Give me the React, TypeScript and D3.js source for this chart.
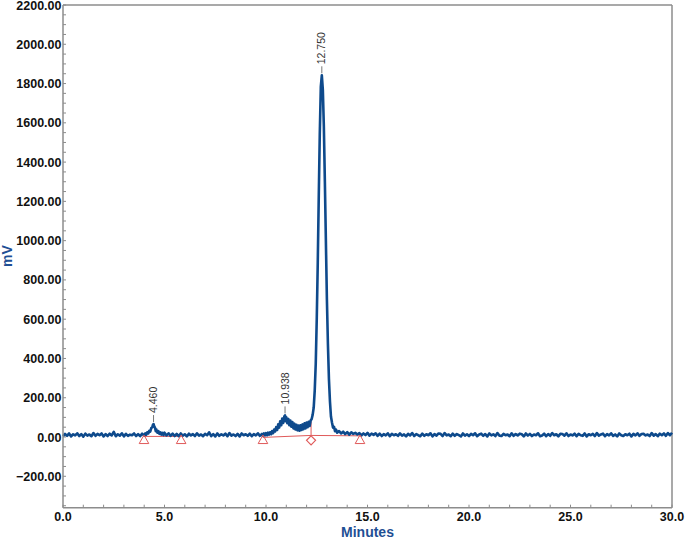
import React from "react";
import * as d3 from "d3";

const W = 685;
const H = 540;

// ---- data ----
// baseline segments sampled every 0.1 min
const seg0Start = 0.0;
const seg0 = [4, 16, 6, 18, 3, 14, 8, 19, 5, 15, 2, 17, 7, 13, 4, 20, 6, 16, 9, 18, 3, 15, 5, 17, 8, 26, 4, 14, 7, 19, 3, 16, 6, 12, 9, 18, 5, 15, 4, 17];

const peak1: [number, number][] = [
  [4.0, 8], [4.05, 18], [4.1, 12], [4.15, 24], [4.2, 18], [4.25, 32], [4.3, 28], [4.35, 46], [4.4, 50], [4.43, 62], [4.46, 66], [4.49, 56], [4.53, 48],
  [4.57, 30], [4.6, 38], [4.65, 22], [4.7, 30], [4.75, 16], [4.8, 24], [4.85, 12], [4.9, 21], [4.95, 10], [5.0, 22], [5.1, 8], [5.2, 19], [5.3, 6], [5.4, 17], [5.5, 5],
];

const seg2Start = 5.6;
const seg2 = [16, 4, 18, 6, 14, 3, 17, 8, 15, 5, 19, 7, 13, 4, 16, 9, 24, 5, 15, 3, 18, 6, 14, 8, 17, 4, 20, 7, 13, 5, 16, 3, 18, 9, 14, 6, 17, 4, 15, 8, 19, 6];

const cluster: [number, number][] = [
  [9.8, 16], [9.85, 6], [9.9, 18], [9.95, 8], [10.0, 20], [10.05, 9], [10.1, 22], [10.15, 12], [10.2, 24], [10.25, 14],
  [10.3, 30], [10.35, 20], [10.4, 38], [10.45, 28], [10.5, 50], [10.55, 36], [10.6, 64], [10.65, 48], [10.7, 80], [10.75, 60],
  [10.8, 94], [10.85, 72], [10.9, 104], [10.938, 110], [10.97, 80], [11.0, 100], [11.05, 70], [11.1, 92], [11.15, 60], [11.2, 84],
  [11.25, 52], [11.3, 76], [11.35, 44], [11.4, 68], [11.45, 38], [11.5, 62], [11.55, 34], [11.6, 58], [11.65, 32], [11.7, 60],
  [11.75, 36], [11.8, 64], [11.85, 40], [11.9, 70], [11.95, 44], [12.0, 74], [12.05, 50], [12.1, 78], [12.15, 56], [12.2, 84],
];

const mainPeak: [number, number][] = [
  [12.25, 92], [12.3, 114], [12.35, 150], [12.4, 236], [12.45, 372], [12.5, 600], [12.55, 888], [12.6, 1230], [12.65, 1548],
  [12.7, 1784], [12.75, 1842], [12.8, 1768], [12.85, 1580], [12.9, 1300], [12.95, 998], [13.0, 702], [13.05, 474], [13.1, 296],
  [13.15, 182], [13.2, 104], [13.25, 74], [13.3, 48], [13.35, 52], [13.4, 30], [13.45, 38], [13.5, 22],
];

const tailStart = 13.6;
const tail = [
  30, 18, 27, 15, 25, 12, 24, 16, 21, 13,
  20, 8, 18, 10, 21, 7, 17, 11, 19, 6,
  17, 5, 15, 8, 19, 4, 16, 9, 14, 6,
  18, 7, 13, 3, 16, 8, 20, 5, 15, 9,
  4, 17, 6, 14, 9, 19, 3, 15, 7, 18,
  16, 5, 20, 8, 13, 4, 17, 6, 15, 9,
  3, 18, 7, 14, 5, 16, 9, 19, 4, 13,
  17, 6, 15, 3, 18, 8, 14, 5, 20, 7,
  5, 16, 9, 13, 4, 19, 6, 15, 8, 17,
  14, 3, 18, 7, 16, 5, 13, 9, 19, 4,
  8, 17, 4, 15, 6, 20, 9, 14, 3, 16,
  15, 7, 19, 5, 13, 8, 17, 4, 16, 9,
  6, 18, 3, 14, 9, 16, 5, 20, 7, 13,
  17, 4, 15, 8, 19, 6, 13, 3, 18, 9,
  5, 14, 9, 17, 3, 16, 8, 19, 6, 15,
  16, 8, 13, 5, 20, 7, 15, 4, 17, 9,
  18, 6, 20, 9, 22,
];

const peakLabels: { t: number; h: number; label: string }[] = [
  { t: 4.46, h: 66, label: "4.460" },
  { t: 10.938, h: 110, label: "10.938" },
  { t: 12.75, h: 1842, label: "12.750" },
];

const baselineSegments: [number, number][][] = [
  [[3.99, 3], [5.82, 3]],
  [[9.85, -2], [12.22, 8], [14.63, 6]],
];
const dropLines: [number, number][][] = [[[12.22, 8], [12.22, 80]]];
const triangleTimes = [3.99, 5.82, 9.85, 14.63];
const diamondTimes = [12.22];

const xTicks = [0, 5, 10, 15, 20, 25, 30];
const yTicks = [-200, 0, 200, 400, 600, 800, 1000, 1200, 1400, 1600, 1800, 2000, 2200];
const xDomain: [number, number] = [0, 30];
const yDomain: [number, number] = [-360, 2200];

// ---- build trace ----
const fromStep = (start: number, vals: number[]): [number, number][] =>
  vals.map((v, i) => [Math.round((start + i * 0.1) * 100) / 100, v]);

const trace: [number, number][] = [
  ...fromStep(seg0Start, seg0),
  ...peak1,
  ...fromStep(seg2Start, seg2),
  ...cluster,
  ...mainPeak,
  ...fromStep(tailStart, tail),
];

const L = 63, R = 672, T = 5, B = 507.7;

export default function App() {
  const x = d3.scaleLinear().domain(xDomain).range([L, R]);
  const y = d3.scaleLinear().domain(yDomain).range([B, T]);
  const line = d3.line<[number, number]>().x((d) => x(d[0])).y((d) => y(d[1]));
  const xMinor = d3.range(0, 31, 1);
  const yMinor = d3.range(-350, 2201, 50);
  const fy = d3.format(".2f");
  const fx = d3.format(".1f");
  const axisColor = "#8c8c8c";
  const red = "#e05a5a";
  const blue = "#0e4a8c";
  const font = "'Liberation Sans', Arial, sans-serif";

  return (
    <svg width={W} height={H} style={{ position: "absolute", left: 0, top: 0 }} fontFamily={font}>
      <rect x={0} y={0} width={W} height={H} fill="#fff" />
      {/* frame */}
      <line x1={L} x2={R} y1={T} y2={T} stroke={axisColor} strokeWidth={1.5} />
      <line x1={R} x2={R} y1={T} y2={B} stroke={axisColor} strokeWidth={1.5} />
      {/* minor ticks */}
      {yMinor.map((v) => (
        <line key={"ym" + v} x1={L} x2={L + 3} y1={y(v)} y2={y(v)} stroke={axisColor} strokeWidth={1} />
      ))}
      {xMinor.map((v) => (
        <line key={"xm" + v} x1={x(v)} x2={x(v)} y1={B} y2={B - 3} stroke={axisColor} strokeWidth={1} />
      ))}
      {/* baselines */}
      {baselineSegments.map((s, i) => (
        <path key={"bl" + i} d={line(s) || ""} fill="none" stroke={red} strokeWidth={1} />
      ))}
      {dropLines.map((s, i) => (
        <path key={"dl" + i} d={line(s) || ""} fill="none" stroke={red} strokeWidth={1} />
      ))}
      {/* trace */}
      <path d={line(trace) || ""} fill="none" stroke={blue} strokeWidth={2.6} strokeLinejoin="round" />
      {/* markers */}
      {triangleTimes.map((t) => {
        const cx = x(t), cy = y(-13);
        return (
          <path key={"tr" + t} d={`M${cx},${cy - 4.5} L${cx + 4.8},${cy + 4} L${cx - 4.8},${cy + 4} Z`} fill="none" stroke={red} strokeWidth={1} />
        );
      })}
      {diamondTimes.map((t) => {
        const cx = x(t), cy = y(-17);
        return (
          <path key={"dm" + t} d={`M${cx},${cy - 4.5} L${cx + 4.5},${cy} L${cx},${cy + 4.5} L${cx - 4.5},${cy} Z`} fill="none" stroke={red} strokeWidth={1.2} />
        );
      })}
      {/* peak labels */}
      {peakLabels.map((p) => {
        const px = x(p.t), py = y(p.h);
        return (
          <g key={p.label}>
            <line x1={px} x2={px} y1={py - 2} y2={py - 9} stroke="#555" strokeWidth={0.8} />
            <text transform={`translate(${px + 3.6},${py - 11}) rotate(-90)`} fontSize={10.5} fill="#333">
              {p.label}
            </text>
          </g>
        );
      })}
      {/* axes */}
      <line x1={L} x2={L} y1={T} y2={B} stroke={axisColor} strokeWidth={1.5} />
      <line x1={L} x2={R} y1={B} y2={B} stroke={axisColor} strokeWidth={1.5} />
      {yTicks.map((v) => (
        <text key={"yt" + v} x={L - 1.5} y={y(v) + 4.5} textAnchor="end" fontSize={12.5} fontWeight="bold" fill="#111">
          {fy(v)}
        </text>
      ))}
      {xTicks.map((v) => (
        <text key={"xt" + v} x={x(v)} y={521} textAnchor="middle" fontSize={12.5} fontWeight="bold" fill="#111">
          {fx(v)}
        </text>
      ))}
      <text x={(L + R) / 2} y={537} textAnchor="middle" fontSize={14} fontWeight="bold" fill="#1f4f94">
        Minutes
      </text>
      <text transform={`translate(${12},${256}) rotate(-90)`} textAnchor="middle" fontSize={14} fontWeight="bold" fill="#1f4f94">
        mV
      </text>
    </svg>
  );
}
